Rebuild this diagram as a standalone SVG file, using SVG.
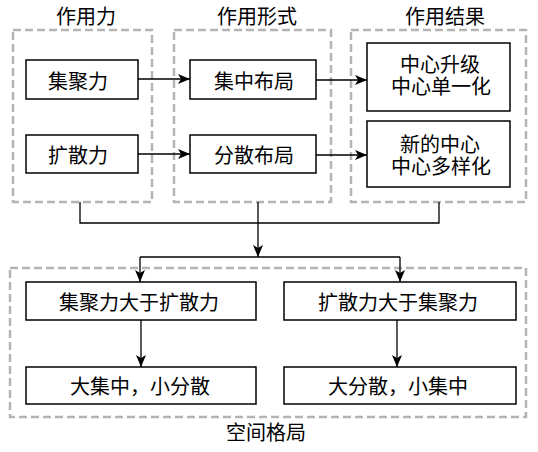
<svg xmlns="http://www.w3.org/2000/svg" width="538" height="452" viewBox="0 0 538 452">
<defs>
<style>
.grp{fill:none;stroke:#b4b4b4;stroke-width:2.5;stroke-dasharray:8,4}
.box{fill:#fff;stroke:#000;stroke-width:1.5}
.t{font-family:"Liberation Serif","Noto Sans CJK SC",serif;font-size:20px;fill:#000;text-anchor:middle}
.h{font-family:"Liberation Serif","Noto Sans CJK SC",serif;font-size:20px;fill:#000;text-anchor:middle}
.ln{fill:none;stroke:#000;stroke-width:1.3}
</style>
<marker id="ah" markerWidth="12" markerHeight="10" refX="12" refY="5" orient="auto" markerUnits="userSpaceOnUse">
<path d="M0,0 L12,5 L0,10 L3,5 Z" fill="#000"/>
</marker>
</defs>
<rect width="538" height="452" fill="#fff"/>
<g id="groups">
<rect class="grp" x="13" y="30" width="139" height="172"/>
<rect class="grp" x="174" y="30" width="157" height="172"/>
<rect class="grp" x="351" y="30" width="175" height="172"/>
<rect class="grp" x="10" y="268" width="516" height="149"/>
<text class="h" x="86" y="24">作用力</text>
<text class="h" x="257" y="24">作用形式</text>
<text class="h" x="445" y="24">作用结果</text>
<text class="h" x="266" y="440">空间格局</text>
</g>
<g id="connectors">
<line class="ln" x1="138" y1="79" x2="190" y2="79" marker-end="url(#ah)"/>
<line class="ln" x1="138" y1="154" x2="190" y2="154" marker-end="url(#ah)"/>
<line class="ln" x1="316" y1="80" x2="367" y2="80" marker-end="url(#ah)"/>
<line class="ln" x1="316" y1="155" x2="367" y2="155" marker-end="url(#ah)"/>
<polyline class="ln" points="80,202 80,223 439,223 439,202"/>
<line class="ln" x1="258" y1="202" x2="258" y2="257" marker-end="url(#ah)"/>
<line class="ln" x1="140" y1="257" x2="400" y2="257"/>
<line class="ln" x1="140" y1="257" x2="140" y2="282" marker-end="url(#ah)"/>
<line class="ln" x1="400" y1="257" x2="400" y2="282" marker-end="url(#ah)"/>
<line class="ln" x1="141" y1="320" x2="141" y2="367" marker-end="url(#ah)"/>
<line class="ln" x1="397" y1="320" x2="397" y2="367" marker-end="url(#ah)"/>
</g>
<g id="n1"><rect class="box" x="26" y="60" width="112" height="39"/><text class="t" x="78" y="89">集聚力</text></g>
<g id="n2"><rect class="box" x="26" y="135" width="112" height="38"/><text class="t" x="78" y="163">扩散力</text></g>
<g id="n3"><rect class="box" x="190" y="60" width="126" height="39"/><text class="t" x="254" y="89">集中布局</text></g>
<g id="n4"><rect class="box" x="190" y="135" width="126" height="38"/><text class="t" x="254" y="163">分散布局</text></g>
<g id="n5"><rect class="box" x="367" y="43" width="143" height="68"/><text class="t" x="440" y="72">中心升级</text><text class="t" x="441" y="94">中心单一化</text></g>
<g id="n6"><rect class="box" x="367" y="121" width="143" height="66"/><text class="t" x="440" y="152">新的中心</text><text class="t" x="441" y="174">中心多样化</text></g>
<g id="n7"><rect class="box" x="26" y="282" width="230" height="38"/><text class="t" x="139" y="310">集聚力大于扩散力</text></g>
<g id="n8"><rect class="box" x="26" y="367" width="230" height="37"/><text class="t" x="140" y="394">大集中，小分散</text></g>
<g id="n9"><rect class="box" x="284" y="282" width="232" height="38"/><text class="t" x="398" y="310">扩散力大于集聚力</text></g>
<g id="n10"><rect class="box" x="284" y="367" width="232" height="37"/><text class="t" x="398" y="394">大分散，小集中</text></g>
</svg>
